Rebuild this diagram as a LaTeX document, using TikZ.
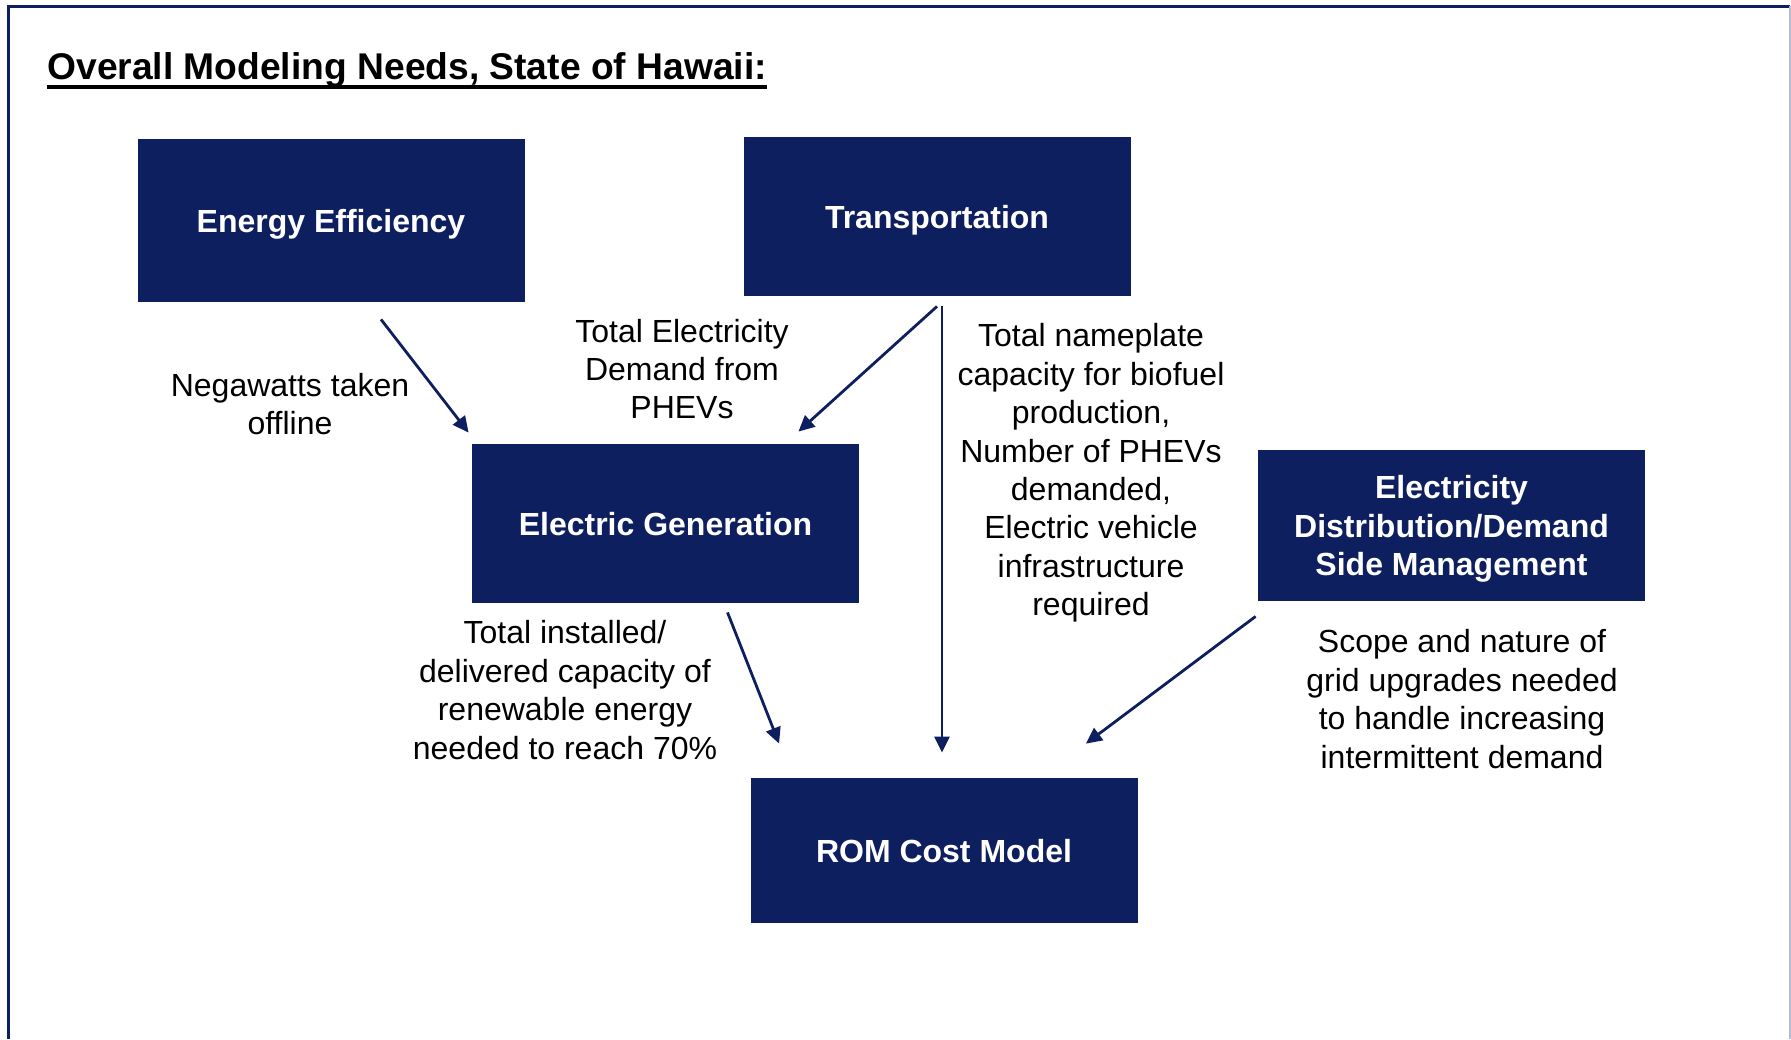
\documentclass[tikz,border=0pt]{standalone}
\usepackage{fontspec}
\setmainfont{Liberation Sans}
\usetikzlibrary{arrows.meta,calc}
\definecolor{hinavy}{RGB}{13,31,94}

\begin{document}
\begin{tikzpicture}[x=0.5pt, y=-0.5pt,
	box/.style={fill=hinavy, text=white, font=\fontsize{16}{19.2}\selectfont\bfseries, align=center, minimum width=193.5pt, inner sep=0pt, text depth=0pt},
	lbl/.style={font=\fontsize{16}{19.2}\selectfont, align=center, inner sep=0pt},
	arr/.style={draw=hinavy, line width=1.4pt, -{Triangle[length=8pt,width=7.5pt]}}]
			%%%%% START %%%%%
			
			\useasboundingbox (0,0) rectangle (1791,1039);
			\draw[hinavy, line width=1.5pt] (8,1039) -- (8,6) -- (1790,6);
			\draw[hinavy!30, line width=0.6pt] (1790,6) -- (1790,1039);
			
			\node[anchor=base west, inner sep=0pt, font=\fontsize{18.6}{22}\selectfont\bfseries] (title) at (47,79) {Overall Modeling Needs, State of Hawaii:};
			\draw[line width=2pt] ([yshift=-4pt]title.base west) -- ([yshift=-4pt]title.base east);
			
			\node[box, minimum height=81.5pt] (eff) at (331,220.5) {Energy Efficiency};
			\node[box, minimum height=79.5pt] (trans) at (937,216.5) {Transportation};
			\node[box, minimum height=79.5pt] (gen) at (665.5,523.5) {Electric Generation};
			\node[box, minimum height=75.5pt] (dist) at (1451.5,525.5) {Electricity\\Distribution/Demand\\Side Management};
			\node[box, minimum height=72.5pt] (rom) at (944,850.5) {ROM Cost Model};
			
			\node[lbl] (nega) at (290,404) {Negawatts taken\\offline};
			\node[lbl] (phev) at (682,369) {Total Electricity\\Demand from\\PHEVs};
			\node[lbl] (plate) at (1091,473) {Total nameplate\\capacity for biofuel\\production,\\Number of PHEVs\\demanded,\\Electric vehicle\\infrastructure\\required};
			\node[lbl] (renew) at (565,690) {Total installed/\\delivered capacity of\\renewable energy\\needed to reach 70\%};
			\node[lbl] (grid) at (1462,699) {Scope and nature of\\grid upgrades needed\\to handle increasing\\intermittent demand};
			
			\draw[arr] ($(eff.south)+(50,17)$) -- ($(gen.north west)+(-3,-11)$);
			\draw[arr] ($(trans.south)+(0,10)$) -- ($(gen.north east)+(-61,-12)$);
			\draw[arr] ($(trans.south)+(5,10)$) -- ($(rom.north)+(-2,-25)$);
			\draw[arr] ($(gen.south)+(62,9)$) -- ($(rom.north west)+(29,-34)$);
			\draw[arr] ($(dist.south west)+(-2,15)$) -- ($(rom.north east)+(-52,-34)$);
			
			%%%%% END %%%%%
		\end{tikzpicture}
\end{document}
